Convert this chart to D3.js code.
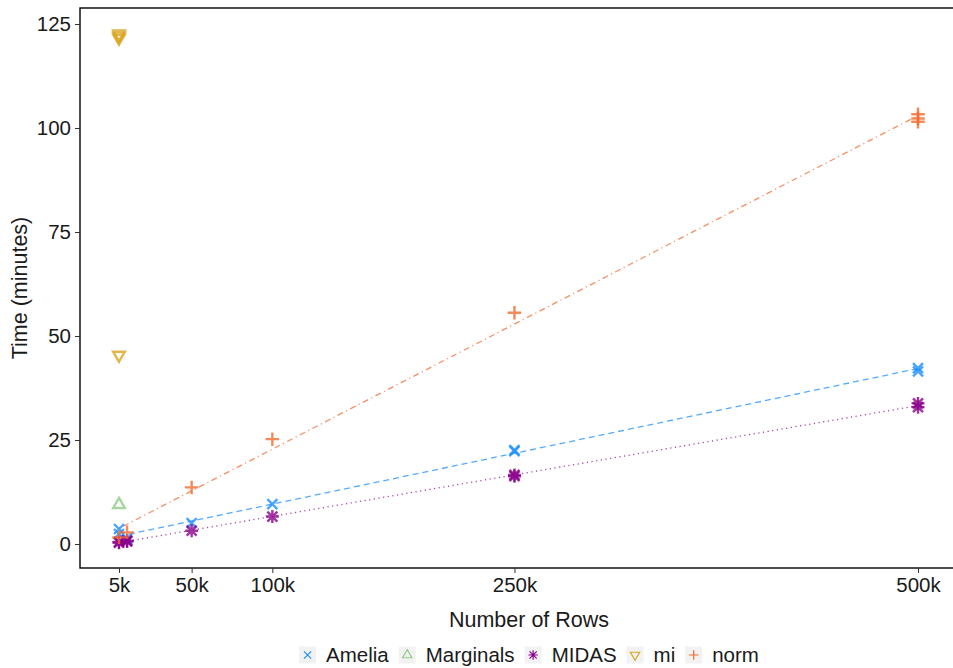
<!DOCTYPE html>
<html>
<head>
<meta charset="utf-8">
<script src="https://cdn.jsdelivr.net/npm/d3@7"></script>
<style>
  body { margin: 0; background: #fff; }
  text { font-family: "Liberation Sans", Arial, sans-serif; fill: #1a1a1a; }
</style>
</head>
<body>
<div id="figure"></div>
<script>
// methods and their styling keys
var methods = ["Amelia", "Marginals", "MIDAS", "mi", "norm"];
var colors = ["#1e8fff", "#8fcc88", "#8b008b", "#daa520", "#f26b30"];
var shapes = ["x", "tri", "star", "tridown", "plus"];
var dashes = ["6,4", null, "1.2,3.5", null, "1.2,3.5,6,3.5"];

// rows (thousands) and measured times (minutes), one entry per run
var ameliaRows = [5, 5, 10, 10, 50, 100, 250, 250, 500, 500];
var ameliaTime = [3.6, 2.4, 1.2, 0.8, 5.0, 9.6, 22.6, 22.3, 42.3, 41.5];
var marginalsRows = [5];
var marginalsTime = [9.5];
var midasRows = [5, 5, 10, 10, 50, 100, 250, 250, 500, 500];
var midasTime = [0.5, 0.3, 0.8, 0.6, 3.2, 6.6, 16.6, 16.3, 33.8, 32.9];
var miRows = [5, 5, 5, 5];
var miTime = [122.6, 122.1, 121.6, 45.4];
var normRows = [5, 10, 50, 100, 250, 500, 500, 500];
var normTime = [1.6, 2.8, 13.6, 25.2, 55.6, 103.3, 102.3, 101.5];

var xTicks = [5, 50, 100, 250, 500];
var xTickLabels = ["5k", "50k", "100k", "250k", "500k"];
var yTicks = [0, 25, 50, 75, 100, 125];

var series = [
    { rows: ameliaRows, time: ameliaTime },
    { rows: marginalsRows, time: marginalsTime },
    { rows: midasRows, time: midasTime },
    { rows: miRows, time: miTime },
    { rows: normRows, time: normTime }
];

var w = 953, h = 668;
var panel = { left: 80, top: 8, right: 978, bottom: 568 };

var svg = d3.select("#figure").append("svg")
    .attr("width", w)
    .attr("height", h);

var xScale = d3.scaleLinear().domain([5, 500]).range([119, 918]);
var yScale = d3.scaleLinear().domain([0, 125]).range([544, 24]);

// shape path, centred on 0,0
function shapePath(s, r) {
    var d = "";
    if (s == "x" || s == "star") {
        d += "M" + (-r) + "," + (-r) + "L" + r + "," + r + "M" + (-r) + "," + r + "L" + r + "," + (-r);
    }
    if (s == "plus" || s == "star") {
        var p = s == "star" ? r * 1.3 : r * 1.35;
        d += "M" + (-p) + ",0L" + p + ",0M0," + (-p) + "L0," + p;
    }
    if (s == "tri") {
        d = "M0," + (-r * 1.25) + "L" + (r * 1.1) + "," + (r * 0.65) + "L" + (-r * 1.1) + "," + (r * 0.65) + "Z";
    }
    if (s == "tridown") {
        d = "M0," + (r * 1.25) + "L" + (r * 1.1) + "," + (-r * 0.65) + "L" + (-r * 1.1) + "," + (-r * 0.65) + "Z";
    }
    return d;
}

// panel border
svg.append("rect")
    .attr("x", panel.left)
    .attr("y", panel.top)
    .attr("width", panel.right - panel.left)
    .attr("height", panel.bottom - panel.top)
    .attr("fill", "none")
    .attr("stroke", "#000")
    .attr("stroke-width", 1.4);

// axes
var xAxis = d3.axisBottom(xScale)
    .tickValues(xTicks)
    .tickFormat(function(d, i) { return xTickLabels[i]; })
    .tickSize(5)
    .tickPadding(4);
var gx = svg.append("g")
    .attr("transform", "translate(0," + panel.bottom + ")")
    .call(xAxis);
gx.select(".domain").remove();
gx.selectAll("line").attr("stroke", "#333");
gx.selectAll("text").style("font-size", "20.5px").attr("fill", "#1a1a1a");

var yAxis = d3.axisLeft(yScale)
    .tickValues(yTicks)
    .tickSize(5)
    .tickPadding(4);
var gy = svg.append("g")
    .attr("transform", "translate(" + panel.left + ",0)")
    .call(yAxis);
gy.select(".domain").remove();
gy.selectAll("line").attr("stroke", "#333");
gy.selectAll("text").style("font-size", "20.5px").attr("fill", "#1a1a1a");

// axis titles
svg.append("text")
    .attr("x", (panel.left + panel.right) / 2)
    .attr("y", 627)
    .attr("text-anchor", "middle")
    .style("font-size", "21.5px")
    .text("Number of Rows");

svg.append("text")
    .attr("transform", "translate(27," + ((panel.top + panel.bottom) / 2) + ") rotate(-90)")
    .attr("text-anchor", "middle")
    .style("font-size", "21.5px")
    .text("Time (minutes)");

// linear fits, like geom_smooth(method = "lm")
var plotArea = svg.append("g");
series.forEach(function(s, i) {
    var xs = s.rows, ys = s.time;
    if (d3.group(xs, function(d) { return d; }).size < 2) return;
    var mx = d3.mean(xs), my = d3.mean(ys);
    var sxy = 0, sxx = 0;
    for (var k = 0; k < xs.length; k++) {
        sxy += (xs[k] - mx) * (ys[k] - my);
        sxx += (xs[k] - mx) * (xs[k] - mx);
    }
    var slope = sxy / sxx;
    var icept = my - slope * mx;
    var ext = d3.extent(xs);
    plotArea.append("line")
        .attr("x1", xScale(ext[0]))
        .attr("x2", xScale(ext[1]))
        .attr("y1", yScale(icept + slope * ext[0]))
        .attr("y2", yScale(icept + slope * ext[1]))
        .attr("stroke", colors[i])
        .attr("stroke-width", 1.3)
        .attr("stroke-opacity", 0.75)
        .attr("stroke-dasharray", dashes[i]);
});

// points
series.forEach(function(s, i) {
    var pts = s.rows.map(function(r, k) { return { rows: r, time: s.time[k] }; });
    plotArea.selectAll(".pt" + i)
        .data(pts)
        .enter()
        .append("path")
        .attr("class", "pt" + i)
        .attr("transform", function(d) {
            return "translate(" + xScale(d.rows) + "," + yScale(d.time) + ")";
        })
        .attr("d", shapePath(shapes[i], (shapes[i] == "tri" || shapes[i] == "tridown") ? 5.3 : 5))
        .attr("fill", "none")
        .attr("stroke", colors[i])
        .attr("stroke-width", 2.4)
        .attr("stroke-opacity", 0.8);
});

// legend
var legend = svg.append("g");
var lx = 0;
methods.forEach(function(m, i) {
    var item = legend.append("g").attr("transform", "translate(" + lx + ",0)");
    item.append("rect")
        .attr("x", 0).attr("y", -8.5)
        .attr("width", 17).attr("height", 17)
        .attr("fill", "#f2f2f2");
    item.append("path")
        .attr("transform", "translate(8.5,0)")
        .attr("d", shapePath(shapes[i], (shapes[i] == "tri" || shapes[i] == "tridown") ? 4.2 : 3.6))
        .attr("fill", "none")
        .attr("stroke", colors[i])
        .attr("stroke-width", 1.2);
    var t = item.append("text")
        .attr("x", 27)
        .attr("y", 7)
        .style("font-size", "20.5px")
        .text(m);
    lx += 27 + t.node().getComputedTextLength() + 10;
});
lx -= 10;
legend.attr("transform", "translate(" + (529 - lx / 2) + ",655)");
</script>
</body>
</html>
